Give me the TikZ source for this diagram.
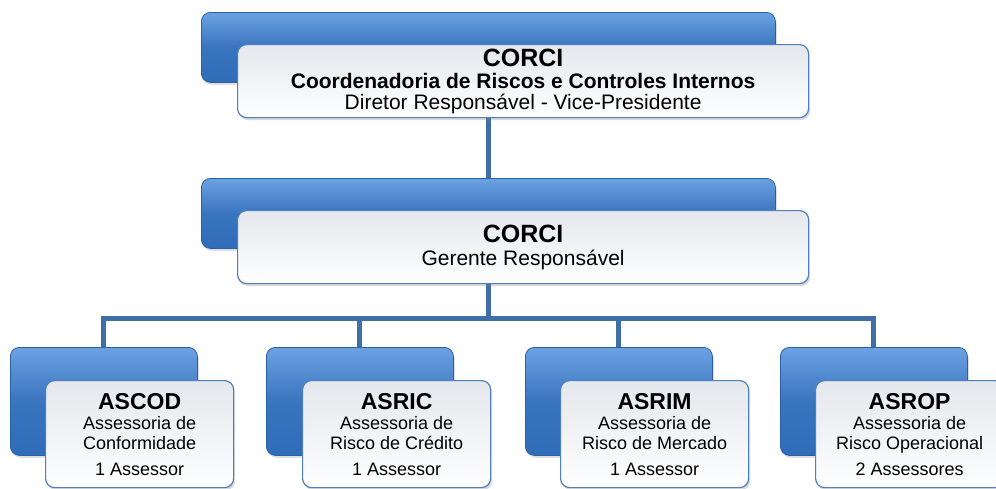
\documentclass[tikz,border=0pt]{standalone}
\usepackage{fontspec}
\setmainfont{Liberation Sans}
\usetikzlibrary{shadows,backgrounds}
\definecolor{bluetop}{RGB}{108,162,226}
\definecolor{bluebot}{RGB}{48,108,184}
\definecolor{blueedge}{RGB}{42,96,166}
\definecolor{linecol}{RGB}{64,110,166}
\definecolor{whiteedge}{RGB}{78,128,192}
\definecolor{whitetop}{RGB}{228,231,236}
\tikzset{
  bluebox/.style={draw=blueedge, line width=0.8pt, rounded corners=9pt,
    top color=bluetop, bottom color=bluebot, middle color=bluebot!85!bluetop,
    anchor=north west, inner sep=0pt,
    drop shadow={shadow xshift=1.5pt, shadow yshift=-2.5pt, opacity=0.25}},
  whitebox/.style={draw=whiteedge, line width=1.2pt, rounded corners=9pt,
    top color=whitetop, bottom color=white,
    anchor=north west, inner sep=0pt, align=center, text=black,
    drop shadow={shadow xshift=1.5pt, shadow yshift=-2.5pt, opacity=0.3}},
  conn/.style={draw=linecol, line width=5pt},
  bigbox/.style={minimum width=574pt, minimum height=70pt},
  bigwhite/.style={minimum width=571pt, minimum height=73pt},
  smallbox/.style={minimum width=187pt, minimum height=108pt},
  smallwhite/.style={minimum width=188pt, minimum height=107pt},
  toptext/.style={font=\fontsize{21}{21}\selectfont},
  subtext/.style={font=\fontsize{18}{20}\selectfont},
}
\newcommand{\headA}[1]{{\fontsize{25}{25}\selectfont\bfseries #1}}
\newcommand{\headB}[1]{{\fontsize{23}{23}\selectfont\bfseries #1}}
\begin{document}
\begin{tikzpicture}[x=1pt,y=-1pt]
\useasboundingbox (0,0) rectangle (996,488);
% level 1
\node[bluebox,bigbox] (b1) at (201,12) {};
\node[whitebox,bigwhite,toptext] (w1) at (237,44)
  {\headA{CORCI}\\[1pt]\textbf{Coordenadoria de Riscos e Controles Internos}\\Diretor Responsável - Vice-Presidente};
% level 2
\node[bluebox,bigbox] (b2) at (201,178) {};
\node[whitebox,bigwhite,toptext] (w2) at (237,210)
  {\headA{CORCI}\\[2pt]Gerente Responsável};
% level 3
\node[bluebox,smallbox] (c1) at (10,347) {};
\node[bluebox,smallbox] (c2) at (266,347) {};
\node[bluebox,smallbox] (c3) at (525,347) {};
\node[bluebox,smallbox] (c4) at (780,347) {};
\node[whitebox,smallwhite,subtext] (d1) at (45,380)
  {\headB{ASCOD}\\Assessoria de\\Conformidade\\[6pt]1 Assessor};
\node[whitebox,smallwhite,subtext] (d2) at (302,380)
  {\headB{ASRIC}\\Assessoria de\\Risco de Crédito\\[6pt]1 Assessor};
\node[whitebox,smallwhite,subtext] (d3) at (560,380)
  {\headB{ASRIM}\\Assessoria de\\Risco de Mercado\\[6pt]1 Assessor};
\node[whitebox,smallwhite,subtext] (d4) at (815,380)
  {\headB{ASROP}\\Assessoria de\\Risco Operacional\\[6pt]2 Assessores};
\coordinate (bus) at (0,318);
\begin{scope}[on background layer]
  \draw[conn] (b1.south) -- (b2.north);
  \draw[conn] (b2.south) -- (b2.south |- bus);
  \draw[conn] (c1.north) -- (c1.north |- bus) -- (c4.north |- bus) -- (c4.north);
  \draw[conn] (c2.north) -- (c2.north |- bus);
  \draw[conn] (c3.north) -- (c3.north |- bus);
\end{scope}
\end{tikzpicture}
\end{document}
